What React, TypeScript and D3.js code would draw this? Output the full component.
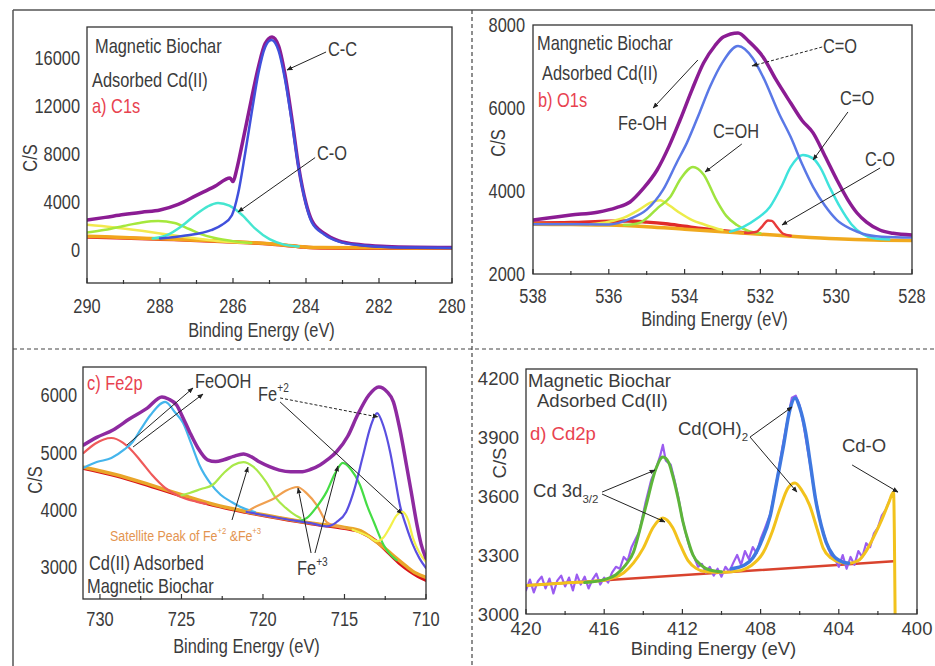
import React from 'react';
import * as d3 from 'd3';

type P = [number, number];

const regular = "'Liberation Sans', Arial, sans-serif";

// ---------- a) C1s ----------
const c1sTicksX = [290, 288, 286, 284, 282, 280];
const c1sMinorX = [289, 287, 285, 283, 281];
const c1sTicksY = [0, 4000, 8000, 12000, 16000];
const c1sRed: P[] = [[290, 1080], [289, 1000], [288, 900], [287, 800], [286, 660], [285, 500], [284.2, 280], [283.6, 170], [282, 150], [280, 140]];
const c1sOrange: P[] = [[290, 1150], [289, 1040], [288, 930], [287, 820], [286, 690], [285, 520], [284.2, 300], [283.6, 200], [282, 180], [280, 170]];
const c1sYellow: P[] = [[290, 2100], [289.3, 1900], [288.5, 1600], [287.8, 1300], [287, 960], [286.3, 720], [285.6, 580]];
const c1sGreen: P[] = [[290, 1450], [289.5, 1680], [289, 2000], [288.5, 2300], [288.05, 2420], [287.6, 2250], [287.2, 1750], [286.9, 1350], [286.5, 1000], [286, 740], [285.5, 580]];
const c1sCO: P[] = [[288.2, 950], [287.8, 1250], [287.4, 2000], [287, 3000], [286.7, 3620], [286.41, 3920], [286.1, 3700], [285.75, 2920], [285.4, 1800], [285, 900], [284.6, 450], [284.2, 290]];
const c1sCC: P[] = [[288, 960], [287.3, 1200], [286.6, 1650], [286.3, 2100], [286.03, 2900], [285.86, 4700], [285.67, 8000], [285.48, 11600], [285.3, 14800], [285.12, 16900], [284.95, 17500], [284.75, 16600], [284.58, 14300], [284.38, 10500], [284.2, 6800], [284, 3800], [283.84, 2300], [283.5, 1300], [283.1, 700], [282.5, 400], [281.8, 250], [281, 200], [280, 170]];
const c1sEnvelope: P[] = [[290, 2500], [289.5, 2720], [289, 2950], [288.5, 3150], [288, 3330], [287.5, 3800], [287, 4550], [286.5, 5300], [286.08, 6000], [286, 5700], [285.9, 6700], [285.75, 8800], [285.5, 12500], [285.3, 15300], [285.12, 17200], [284.93, 17750], [284.75, 17000], [284.58, 14700], [284.38, 10800], [284.2, 6900], [284, 3900], [283.84, 2450], [283.5, 1380], [283.1, 760], [282.5, 430], [281.8, 290], [281, 230], [280, 210]];

// ---------- b) O1s ----------
const o1sTicksX = [538, 536, 534, 532, 530, 528];
const o1sMinorX = [537, 535, 533, 531, 529];
const o1sTicksY = [2000, 4000, 6000, 8000];
const o1sOrange: P[] = [[538, 3200], [537, 3190], [536, 3180], [535, 3140], [534, 3080], [533, 3020], [532, 2960], [531, 2900], [530, 2850], [529, 2820], [528, 2810]];
const o1sRedHump: P[] = [[538, 3230], [537, 3240], [536, 3270], [535.5, 3275], [535, 3250], [534.5, 3210], [534, 3150], [533.5, 3090], [533, 3040], [532.5, 3000], [532.2, 2985]];
const o1sRedPeak: P[] = [[532.4, 2985], [532.1, 3020], [531.95, 3150], [531.8, 3290], [531.7, 3280], [531.55, 3120], [531.4, 2970], [531.2, 2920]];
const o1sYellow: P[] = [[536.5, 3200], [536, 3260], [535.6, 3360], [535.2, 3550], [534.9, 3720], [534.65, 3780], [534.4, 3650], [534.12, 3470], [533.8, 3300], [533.5, 3200], [533.2, 3110], [533, 3060]];
const o1sGreen: P[] = [[535.6, 3180], [535.2, 3230], [534.99, 3350], [534.7, 3600], [534.38, 3855], [534.1, 4300], [533.78, 4580], [533.5, 4400], [533.16, 3780], [532.9, 3400], [532.62, 3180], [532.3, 3030], [532, 2980]];
const o1sCyan: P[] = [[532.8, 3020], [532.46, 3130], [532.1, 3330], [531.75, 3615], [531.45, 4100], [531.2, 4580], [530.88, 4870], [530.6, 4780], [530.43, 4580], [530.15, 4050], [529.9, 3615], [529.6, 3200], [529.3, 2960], [529, 2860], [528.6, 2830]];
const o1sBlue: P[] = [[538, 3200], [536, 3195], [535.44, 3330], [535, 3550], [534.57, 4025], [534.2, 4700], [533.94, 5160], [533.6, 5900], [533.33, 6510], [533, 7100], [532.59, 7495], [532.2, 7200], [531.93, 6750], [531.5, 5850], [531.2, 5300], [530.9, 4650], [530.61, 4100], [530.3, 3650], [529.98, 3300], [529.6, 3080], [529.3, 2970], [528.8, 2900], [528, 2880]];
const o1sEnvelope: P[] = [[538, 3300], [537.5, 3360], [537, 3420], [536.3, 3490], [535.8, 3600], [535.44, 3735], [535.1, 4050], [534.73, 4500], [534.4, 5100], [534.12, 5710], [533.8, 6450], [533.5, 7085], [533.2, 7500], [532.98, 7710], [532.59, 7810], [532.3, 7600], [531.93, 7230], [531.6, 6700], [531.2, 6120], [530.9, 5700], [530.61, 5400], [530.3, 4850], [529.98, 4265], [529.7, 3800], [529.45, 3470], [529.2, 3250], [528.85, 3060], [528.5, 2980], [528, 2940]];

// ---------- c) Fe2p ----------
const fe2pTicksX = [730, 725, 720, 715, 710];
const fe2pMinorX = [727.5, 722.5, 717.5, 712.5];
const fe2pTicksY = [3000, 4000, 5000, 6000];
const fe2pRedBase: P[] = [[731, 4720], [729, 4590], [727, 4420], [725, 4240], [723, 4075], [721, 3955], [719, 3850], [717, 3755], [715, 3675], [714, 3610], [713, 3440], [712.3, 3250], [711.6, 3060], [711, 2930], [710.5, 2840], [710, 2770]];
const fe2pOrangeBase: P[] = [[731, 4740], [729, 4610], [727, 4440], [725, 4260], [723, 4090], [721, 3965], [719, 3860], [717, 3765], [715, 3690], [714, 3630], [713.2, 3470], [712.5, 3320], [711.8, 3150], [711.2, 3010], [710.6, 2890], [710, 2820]];
const fe2pSat729: P[] = [[731, 4990], [730.3, 5150], [729.3, 5250], [728.6, 5170], [728.2, 5075], [727.5, 4850], [726.8, 4605], [726, 4380], [725.1, 4230], [724.1, 4140], [723.5, 4100]];
const fe2pFeooh: P[] = [[731, 4730], [730.2, 4830], [729.3, 4900], [728.5, 5050], [728, 5180], [727.5, 5400], [726.9, 5650], [726, 5880], [725.4, 5700], [724.9, 5510], [724.4, 5150], [723.9, 4780], [723.2, 4450], [722.6, 4260], [721.9, 4130], [721.4, 4050], [720.5, 3960]];
const fe2pSat721: P[] = [[725, 4250], [724.5, 4290], [723.8, 4360], [723.1, 4430], [722.4, 4640], [721.8, 4780], [721.2, 4830], [720.6, 4750], [719.8, 4480], [719.2, 4200], [718.6, 4030], [718, 3900], [717.7, 3855]];
const fe2pSat718: P[] = [[721, 3960], [720.6, 4030], [719.9, 4120], [719.3, 4200], [718.6, 4330], [717.9, 4395], [717.3, 4280], [716.7, 4080], [716.1, 3785], [715.6, 3720], [715, 3680]];
const fe2pFe3a: P[] = [[717.8, 3800], [717.3, 3855], [716.7, 4050], [716.1, 4310], [715.6, 4620], [715.1, 4815], [714.6, 4700], [714.05, 4430], [713.6, 4060], [713.2, 3785], [712.6, 3385], [712.2, 3220], [711.8, 3120]];
const fe2pFe2: P[] = [[721, 3960], [719, 3855], [717, 3760], [716.1, 3710], [715.5, 3780], [714.9, 3960], [714.4, 4350], [713.9, 4900], [713.4, 5450], [713, 5685], [712.6, 5450], [712.2, 5005], [711.9, 4550], [711.6, 4080], [711.2, 3700], [710.8, 3385], [710.4, 3150], [710, 2980]];
const fe2pFe3b: P[] = [[714.5, 3650], [713.5, 3530], [713, 3450], [712.6, 3520], [712.2, 3700], [711.8, 3900], [711.45, 3960], [711.1, 3820], [710.8, 3505], [710.4, 3250], [710, 3090]];
const fe2pEnvelope: P[] = [[731, 5128], [730.2, 5260], [729.2, 5390], [728.2, 5580], [727.1, 5770], [726.2, 5965], [725.8, 5930], [725.3, 5825], [724.9, 5600], [724.5, 5355], [724, 5080], [723.4, 4870], [722.9, 4840], [722.4, 4870], [721.8, 4930], [721.2, 4970], [720.7, 4920], [720.2, 4830], [719.6, 4750], [719, 4690], [718.3, 4660], [717.7, 4660], [717.1, 4700], [716.5, 4780], [716, 4880], [715.5, 5005], [714.8, 5280], [714.2, 5650], [713.5, 6000], [712.9, 6140], [712.4, 6060], [712, 5880], [711.6, 5400], [711.2, 4780], [710.9, 4300], [710.55, 3730], [710.3, 3400], [710, 3150]];

// ---------- d) Cd2p ----------
const cd2pTicksX = [420, 416, 412, 408, 404, 400];
const cd2pMinorX = [418, 414, 410, 406, 402];
const cd2pTicksY = [3000, 3300, 3600, 3900, 4200];
const cd2pBase: P[] = [[420, 3145], [401.2, 3268]];
const cd2pRaw: P[] = [[420, 3120], [419.8, 3175], [419.6, 3110], [419.4, 3165], [419.2, 3190], [419, 3130], [418.8, 3180], [418.6, 3105], [418.4, 3170], [418.2, 3195], [418, 3140], [417.8, 3185], [417.6, 3120], [417.4, 3200], [417.2, 3150], [417, 3190], [416.8, 3130], [416.6, 3175], [416.4, 3205], [416.2, 3150], [416, 3185], [415.8, 3160], [415.6, 3210], [415.4, 3240], [415.2, 3230], [415, 3290], [414.8, 3270], [414.6, 3340], [414.4, 3380], [414.2, 3420], [413.9, 3560], [413.6, 3680], [413.35, 3740], [413.15, 3800], [413, 3860], [412.85, 3780], [412.6, 3760], [412.4, 3680], [412.2, 3590], [412, 3480], [411.8, 3400], [411.6, 3330], [411.4, 3290], [411.2, 3240], [411, 3255], [410.8, 3210], [410.6, 3240], [410.4, 3195], [410.2, 3230], [410, 3190], [409.8, 3240], [409.6, 3215], [409.4, 3260], [409.2, 3300], [409, 3250], [408.8, 3320], [408.6, 3280], [408.4, 3340], [408.2, 3310], [408, 3380], [407.8, 3430], [407.5, 3510], [407.2, 3660], [406.9, 3840], [406.6, 4000], [406.4, 4100], [406.2, 4110], [406, 4060], [405.8, 3960], [405.5, 3780], [405.2, 3590], [404.9, 3450], [404.65, 3370], [404.4, 3300], [404.2, 3280], [404, 3240], [403.8, 3300], [403.6, 3230], [403.4, 3290], [403.2, 3250], [403, 3320], [402.8, 3290], [402.6, 3360], [402.4, 3340], [402.2, 3410], [402, 3440], [401.8, 3500], [401.6, 3530], [401.4, 3580]];
const cd2pYellow: P[] = [[420, 3145], [418, 3158], [416, 3172], [415.5, 3185], [415, 3210], [414.5, 3260], [414, 3335], [413.5, 3440], [413, 3488], [412.5, 3440], [412.1, 3350], [411.7, 3270], [411.3, 3232], [410.8, 3215], [410, 3212], [409, 3222], [408.5, 3245], [407.85, 3315], [407.4, 3420], [407, 3540], [406.6, 3640], [406.24, 3666], [405.9, 3630], [405.5, 3555], [405.1, 3430], [404.8, 3335], [404.4, 3285], [403.9, 3262], [403.5, 3258], [403, 3272], [402.6, 3320], [402.2, 3395], [401.8, 3480], [401.45, 3565], [401.2, 3620], [401.12, 3000]];
const cd2pGreen: P[] = [[417, 3160], [416, 3175], [415.4, 3200], [414.9, 3250], [414.5, 3315], [414.2, 3420], [413.85, 3555], [413.35, 3740], [413, 3798], [412.7, 3770], [412.5, 3705], [412.2, 3580], [411.97, 3468], [411.7, 3370], [411.46, 3300], [411, 3245], [410.6, 3224], [410, 3215]];
const cd2pBlue: P[] = [[409.5, 3230], [408.8, 3250], [408.4, 3285], [408, 3360], [407.5, 3503], [407.2, 3660], [406.85, 3844], [406.5, 4040], [406.24, 4098], [406, 4050], [405.7, 3925], [405.45, 3760], [405.2, 3590], [404.9, 3450], [404.65, 3366], [404.3, 3300], [403.8, 3264], [403.5, 3258]];

type Series = { data: P[]; color: string; width: number; linear?: boolean };
type Part = { t: string; sup?: boolean; sub?: boolean };
type Label = { parts: Part[]; dx: number; dy: number; color?: string; size?: number };
type Note = { parts: Part[]; at: P; size?: number; color?: string; arrows: { from: P; to: P; dash?: boolean }[] };

const textGrey = '#3b3b3b';
const labelRed = '#e8424f';

const panels = [
  {
    id: 'a', box: { x0: 87, y0: 27, x1: 452, y1: 283 }, xDomain: [290, 280], yDomain: [-2750, 18583],
    xTicks: c1sTicksX, xMinor: c1sMinorX, yTicks: c1sTicksY, fs: 20.5, sx: 0.8,
    xLabelBase: 313, yLabelRight: 80, titleBase: 337, csAt: [30, 158],
    series: [
      { data: c1sRed, color: '#e3262a', width: 3.5 },
      { data: c1sOrange, color: '#f2a51c', width: 3.5 },
      { data: c1sYellow, color: '#f2e94e', width: 2.5 },
      { data: c1sGreen, color: '#a5e83c', width: 2.5 },
      { data: c1sCO, color: '#45e6d0', width: 2.5 },
      { data: c1sEnvelope, color: '#8b1c93', width: 3.5 },
      { data: c1sCC, color: '#4050dc', width: 2.5 },
    ] as Series[],
    labels: [
      { parts: [{ t: 'Magnetic Biochar' }], dx: 8, dy: 26 },
      { parts: [{ t: 'Adsorbed Cd(II)' }], dx: 5, dy: 60 },
      { parts: [{ t: 'a) C1s' }], dx: 5, dy: 86, color: labelRed },
    ] as Label[],
    notes: [
      { parts: [{ t: 'C-C' }], at: [283.4, 16200], arrows: [{ from: [283.45, 16500], to: [284.52, 15000] }] },
      { parts: [{ t: 'C-O' }], at: [283.7, 7500], arrows: [{ from: [283.75, 7700], to: [285.86, 3170] }] },
    ] as Note[],
  },
  {
    id: 'b', box: { x0: 533, y0: 25, x1: 912, y1: 274 }, xDomain: [538, 528], yDomain: [2000, 8000],
    xTicks: o1sTicksX, xMinor: o1sMinorX, yTicks: o1sTicksY, fs: 20.5, sx: 0.8,
    xLabelBase: 303, yLabelRight: 525, titleBase: 326, csAt: [498, 143],
    series: [
      { data: o1sRedHump, color: '#e02a2a', width: 3.5 },
      { data: o1sOrange, color: '#f0a91e', width: 3.5 },
      { data: o1sYellow, color: '#ecec4a', width: 2.5 },
      { data: o1sGreen, color: '#9fe43f', width: 2.5 },
      { data: o1sRedPeak, color: '#e83a3a', width: 2.5 },
      { data: o1sCyan, color: '#3fe3dc', width: 2.5 },
      { data: o1sBlue, color: '#5a78e6', width: 2.5 },
      { data: o1sEnvelope, color: '#8b1c93', width: 3.5 },
    ] as Series[],
    labels: [
      { parts: [{ t: 'Mangnetic Biochar' }], dx: 4, dy: 25 },
      { parts: [{ t: 'Adsorbed Cd(II)' }], dx: 9, dy: 55 },
      { parts: [{ t: 'b) O1s' }], dx: 5, dy: 82, color: labelRed },
    ] as Label[],
    notes: [
      { parts: [{ t: 'Fe-OH' }], at: [535.76, 5470], arrows: [{ from: [533.65, 7157], to: [534.83, 6000] }] },
      { parts: [{ t: 'C=O' }], at: [530.35, 7326], arrows: [{ from: [530.37, 7470], to: [532.22, 7013], dash: true }] },
      { parts: [{ t: 'C=O' }], at: [529.9, 6073], arrows: [{ from: [529.69, 5904], to: [530.61, 4747] }] },
      { parts: [{ t: 'C-O' }], at: [529.24, 4603], arrows: [{ from: [528.84, 4555], to: [531.43, 3181] }] },
      { parts: [{ t: 'C=OH' }], at: [533.25, 5278], arrows: [{ from: [532.49, 5133], to: [533.46, 4458] }] },
    ] as Note[],
  },
  {
    id: 'c', box: { x0: 83, y0: 367, x1: 426, y1: 599 }, xDomain: [731.04, 710], yDomain: [2442, 6488],
    xTicks: fe2pTicksX, xMinor: fe2pMinorX, yTicks: fe2pTicksY, fs: 20.5, sx: 0.8,
    xLabelBase: 626, yLabelRight: 77, titleBase: 653, csAt: [35, 480],
    series: [
      { data: fe2pRedBase, color: '#d8121a', width: 3.5 },
      { data: fe2pOrangeBase, color: '#e9a62a', width: 3.5 },
      { data: fe2pSat729, color: '#ef5a5a', width: 2.2 },
      { data: fe2pFeooh, color: '#45b5ec', width: 2.2 },
      { data: fe2pSat721, color: '#a9e84a', width: 2.2 },
      { data: fe2pSat718, color: '#f0a050', width: 2.2 },
      { data: fe2pFe3a, color: '#45dd45', width: 2.2 },
      { data: fe2pFe2, color: '#5a4fe0', width: 2.2 },
      { data: fe2pFe3b, color: '#f3f04a', width: 2.2 },
      { data: fe2pEnvelope, color: '#8e2aa0', width: 3.5 },
    ] as Series[],
    labels: [
      { parts: [{ t: 'c) Fe2p' }], dx: 4, dy: 23, color: labelRed },
      { parts: [{ t: 'Cd(II) Adsorbed' }], dx: 6, dy: 203 },
      { parts: [{ t: 'Magnetic Biochar' }], dx: 4, dy: 226 },
    ] as Label[],
    notes: [
      { parts: [{ t: 'FeOOH' }], at: [724.17, 6122], arrows: [{ from: [728.34, 5128], to: [724.29, 6122] }, { from: [727.97, 5093], to: [723.68, 6017] }] },
      { parts: [{ t: 'Fe' }, { t: '+2', sup: true }], at: [720.3, 5895], arrows: [{ from: [718.95, 5948], to: [712.94, 5616], dash: true }, { from: [718.95, 5878], to: [711.47, 3925] }] },
      { parts: [{ t: 'Fe' }, { t: '+3', sup: true }], at: [717.91, 2861], arrows: [{ from: [717.05, 3244], to: [717.85, 4378] }, { from: [716.81, 3244], to: [715.4, 4762] }] },
      { parts: [{ t: 'Satellite Peak of Fe' }, { t: '+2', sup: true }, { t: ' &Fe' }, { t: '+3', sup: true }], at: [729.38, 3454], size: 15.5, color: '#e3944f', arrows: [{ from: [721.9, 3820], to: [720.92, 4744] }] },
    ] as Note[],
  },
  {
    id: 'd', box: { x0: 526, y0: 369, x1: 917, y1: 614 }, xDomain: [420, 400], yDomain: [3000, 4246],
    xTicks: cd2pTicksX, xMinor: cd2pMinorX, yTicks: cd2pTicksY, fs: 18.5, sx: 1,
    xLabelBase: 635, yLabelRight: 519, titleBase: 655, csAt: [499, 463],
    series: [
      { data: cd2pBase, color: '#d9432e', width: 2.5 },
      { data: cd2pRaw, color: '#9b5cf0', width: 2.2, linear: true },
      { data: cd2pYellow, color: '#f2c21c', width: 3 },
      { data: cd2pGreen, color: '#5db53a', width: 3 },
      { data: cd2pBlue, color: '#3f78e0', width: 3.5 },
    ] as Series[],
    labels: [
      { parts: [{ t: 'Magnetic Biochar' }], dx: 2, dy: 18 },
      { parts: [{ t: 'Adsorbed Cd(II)' }], dx: 11, dy: 38 },
      { parts: [{ t: 'd) Cd2p' }], dx: 4, dy: 71, color: labelRed },
    ] as Label[],
    notes: [
      { parts: [{ t: 'Cd(OH)' }, { t: '2', sub: true }], at: [412.23, 3910], arrows: [{ from: [408.54, 3900], to: [406.39, 4053] }, { from: [408.54, 3900], to: [406.14, 3620] }] },
      { parts: [{ t: 'Cd 3d' }, { t: '3/2', sub: true }], at: [419.64, 3595], arrows: [{ from: [416.11, 3620], to: [413.4, 3732] }, { from: [416.11, 3610], to: [412.89, 3468] }] },
      { parts: [{ t: 'Cd-O' }], at: [403.84, 3824], arrows: [{ from: [403.32, 3758], to: [400.97, 3620] }] },
    ] as Note[],
  },
];

// text squeezed horizontally to mimic the condensed face of the original
function Txt({ x, y, sx, size, color, anchor, rotate, dy, children }: any) {
  return (
    <g transform={`translate(${x},${y})${rotate ? ` rotate(${rotate})` : ''} scale(${sx},1)`}>
      <text x={0} y={0} dy={dy} textAnchor={anchor} fontSize={size} fill={color} fontFamily={regular}>{children}</text>
    </g>
  );
}

function Rich({ parts, x, y, size, color, sx }: { parts: Part[]; x: number; y: number; size: number; color: string; sx: number }) {
  const small = size * 0.62;
  let shift = 0;
  return (
    <Txt x={x} y={y} sx={sx} size={size} color={color}>
      {parts.map((p, i) => {
        const target = p.sup ? -size * 0.45 : p.sub ? size * 0.3 : 0;
        const dy = target - shift;
        shift = target;
        return (
          <tspan key={i} dy={dy} fontSize={p.sup || p.sub ? small : size}>{p.t}</tspan>
        );
      })}
    </Txt>
  );
}

function Panel({ cfg }: { cfg: typeof panels[number] }) {
  const { box, sx } = cfg;
  const x = d3.scaleLinear().domain(cfg.xDomain).range([box.x0, box.x1]);
  const y = d3.scaleLinear().domain(cfg.yDomain).range([box.y1, box.y0]);
  const clip = `clip-${cfg.id}`;
  const mk = (s: Series) =>
    d3.line<P>().x((d) => x(d[0])).y((d) => y(d[1])).curve(s.linear ? d3.curveLinear : d3.curveMonotoneX)(s.data) || '';

  return (
    <g>
      <defs>
        <clipPath id={clip}>
          <rect x={box.x0} y={box.y0} width={box.x1 - box.x0} height={box.y1 - box.y0} />
        </clipPath>
      </defs>
      <g clipPath={`url(#${clip})`} fill="none" strokeLinejoin="round" strokeLinecap="round">
        {cfg.series.map((s, i) => (
          <path key={i} d={mk(s)} stroke={s.color} strokeWidth={s.width} />
        ))}
      </g>
      <rect x={box.x0} y={box.y0} width={box.x1 - box.x0} height={box.y1 - box.y0} fill="none" stroke="#333" strokeWidth={1.3} />
      {cfg.xTicks.map((t) => (
        <g key={`xt${t}`}>
          <line x1={x(t)} x2={x(t)} y1={box.y1} y2={box.y1 - 5} stroke="#333" strokeWidth={1.2} />
          <Txt x={x(t)} y={cfg.xLabelBase} sx={sx} anchor="middle" size={cfg.fs} color={textGrey}>{t}</Txt>
        </g>
      ))}
      {cfg.xMinor.map((t) => (
        <line key={`xm${t}`} x1={x(t)} x2={x(t)} y1={box.y1 + 1} y2={box.y1 - 3} stroke="#333" strokeWidth={1.2} />
      ))}
      {cfg.yTicks.map((t) => (
        <Txt key={`yt${t}`} x={cfg.yLabelRight} y={y(t)} dy="0.36em" sx={sx} anchor="end" size={cfg.fs} color={textGrey}>{t}</Txt>
      ))}
      <Txt x={(box.x0 + box.x1) / 2 - 8} y={cfg.titleBase} sx={sx} anchor="middle" size={cfg.fs} color={textGrey}>Binding Energy (eV)</Txt>
      <Txt x={cfg.csAt[0]} y={cfg.csAt[1]} rotate={-90} dy="0.36em" sx={sx} anchor="middle" size={cfg.fs} color={textGrey}>C/S</Txt>
      {cfg.labels.map((l, i) => (
        <Rich key={`l${i}`} parts={l.parts} x={box.x0 + l.dx} y={box.y0 + l.dy} size={l.size ?? cfg.fs} color={l.color ?? textGrey} sx={sx} />
      ))}
      {cfg.notes.map((n, i) => (
        <g key={`n${i}`}>
          {n.arrows.map((a, j) => (
            <line key={j} x1={x(a.from[0])} y1={y(a.from[1])} x2={x(a.to[0])} y2={y(a.to[1])} stroke="#222" strokeWidth={1} strokeDasharray={a.dash ? '3,2' : undefined} markerEnd="url(#arrowHead)" />
          ))}
          <Rich parts={n.parts} x={x(n.at[0])} y={y(n.at[1])} size={n.size ?? cfg.fs} color={n.color ?? textGrey} sx={sx} />
        </g>
      ))}
    </g>
  );
}

export default function App() {
  return (
    <svg width={935} height={666} style={{ position: 'absolute', left: 0, top: 0, background: '#fff' }}>
      <defs>
        <marker id="arrowHead" viewBox="0 0 10 10" refX="9" refY="5" markerWidth="6" markerHeight="6" orient="auto">
          <path d="M0,1 L10,5 L0,9 z" fill="#222" />
        </marker>
      </defs>
      <rect width={935} height={666} fill="#fff" />
      <line x1={13} x2={935} y1={10} y2={10} stroke="#555" strokeWidth={1.5} />
      <line x1={13} x2={13} y1={10} y2={666} stroke="#555" strokeWidth={1.5} />
      <line x1={472} x2={472} y1={10} y2={666} stroke="#444" strokeWidth={1.2} strokeDasharray="4,3" />
      <line x1={13} x2={935} y1={349} y2={349} stroke="#444" strokeWidth={1.2} strokeDasharray="4,3" />
      {panels.map((p) => (
        <Panel key={p.id} cfg={p} />
      ))}
    </svg>
  );
}
